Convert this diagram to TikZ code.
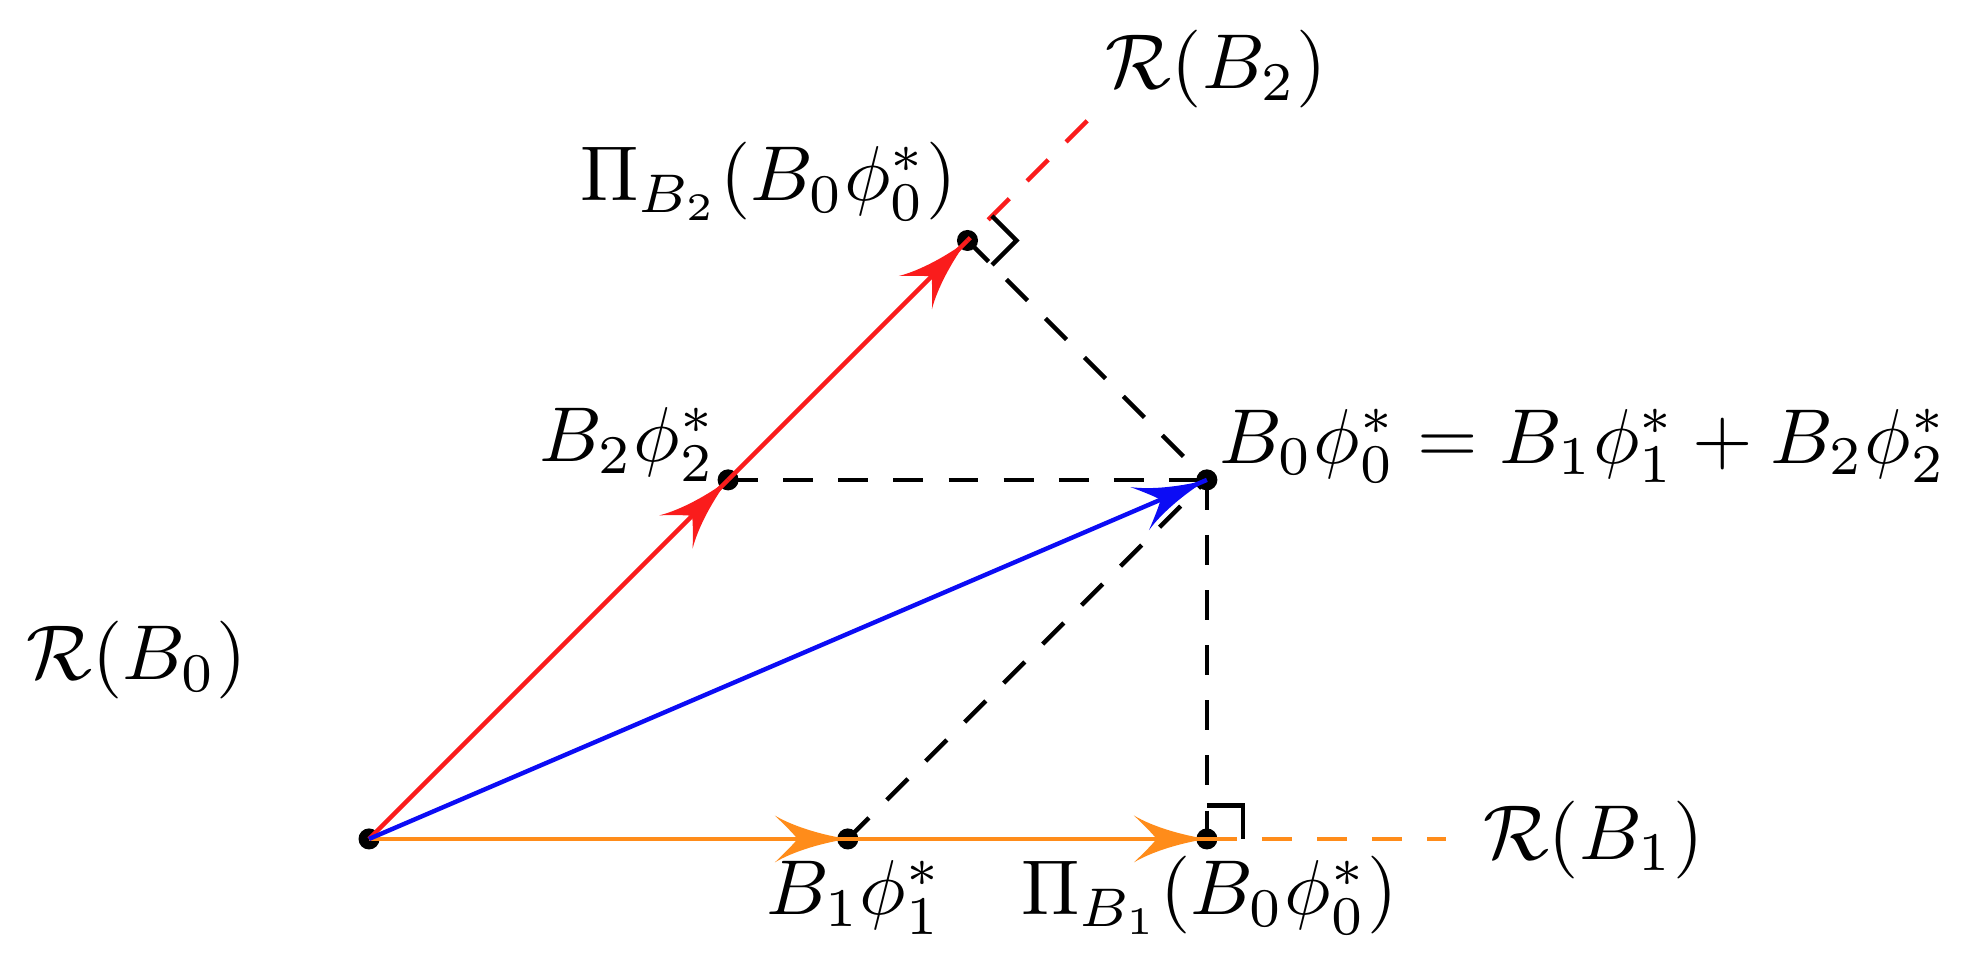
\documentclass[tikz,border=0pt]{standalone}
\usepackage{amsmath}
\usepackage{graphicx}
\usetikzlibrary{decorations.markings}
\definecolor{vred}{RGB}{250,28,28}
\definecolor{vorange}{RGB}{255,140,26}
\definecolor{vblue}{RGB}{12,12,245}
\newcommand{\mylab}[1]{\scalebox{1.85}{$#1$}}
\tikzset{
  vec/.style={line width=1.05pt},
  guide/.style={line width=1.05pt, dash pattern=on 7.1pt off 6.0pt},
  lab/.style={inner sep=0pt, anchor=base west},
  dot/.style={circle, fill=black, inner sep=0pt, minimum size=5pt},
  headat/.style={postaction={decorate}, decoration={markings, mark=at position 1 with {
    \fill[#1] (0,0) .. controls (-0.2,0.03) and (-0.45,0.1) .. (-0.61,0.196)
      .. controls (-0.53,0.12) and (-0.46,0.05) .. (-0.42,0)
      .. controls (-0.46,-0.05) and (-0.53,-0.12) .. (-0.61,-0.196)
      .. controls (-0.45,-0.1) and (-0.2,-0.03) .. (0,0) -- cycle;}}}
}
\begin{document}
\begin{tikzpicture}
\useasboundingbox (-3.083,-1.103) rectangle (13.409,7.009);
% points
\node[dot] (O) at (0,0) {};
\node[dot] (B1) at (4,0) {};
\node[dot] (P1) at (7,0) {};
\node[dot] (B0) at (7,3) {};
\node[dot] (B2) at (3,3) {};
\node[dot] (P2) at (5,5) {};
\coordinate (E1) at (9,0);
\coordinate (E2) at (6,6);
% guide lines
\draw[guide] (P2.center) -- (B0.center);
\draw[guide] (B2.center) -- (B0.center);
\draw[guide] (B1.center) -- (B0.center);
\draw[guide] (B0.center) -- (P1.center);
\draw[guide, vred] (E2) -- (P2.center);
\draw[guide, vorange] (P1.center) -- (E1);
% right angle marks
\draw[vec] (7,0.28) -- (7.3,0.28) -- (7.3,0);
\draw[vec] (5.205,5.205) -- (5.41,5) -- (5.205,4.795);
% vectors
\draw[vec, vorange, headat=vorange] (O.center) -- (B1.center);
\draw[vec, vorange, headat=vorange] (B1.center) -- (P1.center);
\draw[vec, vred, headat=vred] (O.center) -- (B2.center);
\draw[vec, vred, headat=vred] (B2.center) -- (P2.center);
\draw[vec, vblue, headat=vblue] (O.center) -- (B0.center);
% labels
\node[lab] (lR2) at (6.15,6.27) {\mylab{\mathcal{R}(B_2)}};
\node[lab] (lP2) at (1.76,5.33) {\mylab{\Pi_{B_2}(B_0\phi_0^*)}};
\node[lab] (lB2) at (1.42,3.15) {\mylab{B_2\phi_2^*}};
\node[lab] (lB0) at (7.1,3.14) {\mylab{B_0\phi_0^*=B_1\phi_1^*+B_2\phi_2^*}};
\node[lab] (lR0) at (-2.87,1.33) {\mylab{\mathcal{R}(B_0)}};
\node[lab] (lB1) at (3.31,-0.635) {\mylab{B_1\phi_1^*}};
\node[lab] (lP1) at (5.44,-0.635) {\mylab{\Pi_{B_1}(B_0\phi_0^*)}};
\node[lab] (lR1) at (9.3,-0.17) {\mylab{\mathcal{R}(B_1)}};
\end{tikzpicture}
\end{document}
